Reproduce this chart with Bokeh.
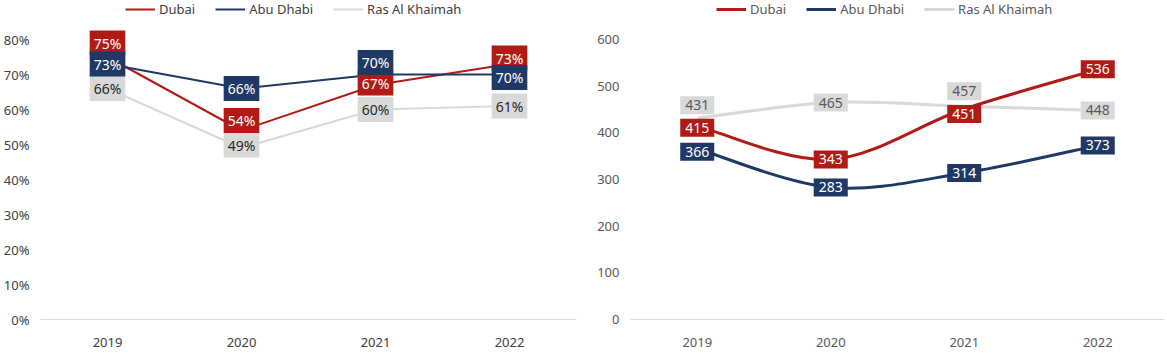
from bokeh.plotting import figure
from bokeh.models import (ColumnDataSource, FixedTicker, PrintfTickFormatter, Range1d,
                          Legend, LegendItem)
from bokeh.layouts import row
from bokeh.embed import file_html
from bokeh.resources import INLINE
from bokeh.core.properties import value

# ---------------- data ----------------
YEARS = ["2019", "2020", "2021", "2022"]
SERIES = ["Dubai", "Abu Dhabi", "Ras Al Khaimah"]

OCC_DUBAI = [75, 54, 67, 73]          # occupancy, %
OCC_ABU_DHABI = [73, 66, 70, 70]
OCC_RAK = [66, 49, 60, 61]

ADR_DUBAI = [415, 343, 451, 536]      # average daily rate
ADR_ABU_DHABI = [366, 283, 314, 373]
ADR_RAK = [431, 465, 457, 448]

OCC_TICKS = [0, 10, 20, 30, 40, 50, 60, 70, 80]
ADR_TICKS = [0, 100, 200, 300, 400, 500, 600]

# ---------------- styles ----------------
COLORS = ["#B01B16", "#1F3864", "#D9D9D9"]
FONT = "Noto Sans"
# label nudges in screen pixels (positive = up) to keep boxes apart, as in the original
OCC_NUDGE = [[14, 10, 2, 6], [0, 0, 12, -3], [0, 3, 0, 0]]
ADR_NUDGE = [[-2, 0, -5, 0], [-3, 0, 0, 0], [13, 0, 15, 0]]

H = 353
BOTTOM = 34


def make_fig(width, left, right, ticks, top_val, fmt, tick_color):
    frame_h = H - BOTTOM
    # top tick sits 39 px below the top of the frame
    px_per_unit = (frame_h - 39) / top_val
    p = figure(width=width, height=H, output_backend="svg", toolbar_location=None,
               min_border_left=left, min_border_right=right, min_border_top=0,
               min_border_bottom=BOTTOM,
               x_range=Range1d(-0.5, len(YEARS) - 0.5),
               y_range=Range1d(0, frame_h / px_per_unit))
    p.outline_line_color = None
    p.background_fill_color = "white"
    p.border_fill_color = "white"
    p.xgrid.visible = False
    p.ygrid.visible = False

    p.yaxis.ticker = FixedTicker(ticks=ticks)
    p.yaxis.formatter = fmt
    p.yaxis.axis_line_color = None
    p.yaxis.major_tick_line_color = None
    p.yaxis.minor_tick_line_color = None
    p.yaxis.major_label_text_font = FONT
    p.yaxis.major_label_text_font_size = "13px"
    p.yaxis.major_label_text_color = tick_color

    p.xaxis.ticker = FixedTicker(ticks=list(range(len(YEARS))))
    p.xaxis.major_label_overrides = {i: y for i, y in enumerate(YEARS)}
    p.xaxis.axis_line_color = "#D9D9D9"
    p.xaxis.major_tick_line_color = None
    p.xaxis.minor_tick_line_color = None
    p.xaxis.major_label_standoff = 12
    p.xaxis.major_label_text_font = FONT
    p.xaxis.major_label_text_font_size = "13px"
    p.xaxis.major_label_text_color = tick_color
    return p, px_per_unit


def add_labels(p, vals, texts, nudge, color, text_color, pad):
    src = ColumnDataSource(dict(x=list(range(len(vals))), y=vals, t=texts,
                                dy=[-n for n in nudge]))
    p.text(x="x", y="y", text="t", source=src, y_offset="dy",
           text_align="center", text_baseline="middle",
           text_font=value(FONT), text_font_size="14px", text_color=text_color,
           background_fill_color=color, padding=pad)


def bezier_source(vals, t=1 / 6):
    n = len(vals)
    xs = list(range(n))
    d = dict(x0=[], y0=[], x1=[], y1=[], cx0=[], cy0=[], cx1=[], cy1=[])
    for i in range(n - 1):
        pm = max(i - 1, 0)
        pp = min(i + 2, n - 1)
        d["x0"].append(xs[i]); d["y0"].append(vals[i])
        d["x1"].append(xs[i + 1]); d["y1"].append(vals[i + 1])
        d["cx0"].append(xs[i] + (xs[i + 1] - xs[pm]) * t)
        d["cy0"].append(vals[i] + (vals[i + 1] - vals[pm]) * t)
        d["cx1"].append(xs[i + 1] - (xs[pp] - xs[i]) * t)
        d["cy1"].append(vals[i + 1] - (vals[pp] - vals[i]) * t)
    return ColumnDataSource(d)


# ---------------- left: occupancy ----------------
p1, k1 = make_fig(583, 40, 7, OCC_TICKS, 80, PrintfTickFormatter(format="%d%%"), "#404040")
occ = [OCC_DUBAI, OCC_ABU_DHABI, OCC_RAK]
draw_order = [2, 0, 1]
rends1 = {}
for si in draw_order:
    r = p1.line(list(range(len(YEARS))), occ[si], line_color=COLORS[si], line_width=2)
    rends1[si] = r
for si in draw_order:
    add_labels(p1, occ[si], [f"{v}%" for v in occ[si]], OCC_NUDGE[si], COLORS[si],
               "#262626" if si == 2 else "white", dict(x=4, y=3))
items1 = [LegendItem(label=SERIES[si], renderers=[rends1[si]]) for si in range(3)]

# ---------------- right: ADR ----------------
p2, k2 = make_fig(584, 47, 3, ADR_TICKS, 600, PrintfTickFormatter(format="%d"), "#595959")
adr = [ADR_DUBAI, ADR_ABU_DHABI, ADR_RAK]
rends2 = {}
for si in draw_order:
    r = p2.bezier(x0="x0", y0="y0", x1="x1", y1="y1", cx0="cx0", cy0="cy0",
                  cx1="cx1", cy1="cy1", source=bezier_source(adr[si]),
                  line_color=COLORS[si], line_width=3)
    rends2[si] = r
for si in draw_order:
    add_labels(p2, adr[si], [str(v) for v in adr[si]], ADR_NUDGE[si], COLORS[si],
               "#595959" if si == 2 else "white", dict(x=5, y=4))
items2 = [LegendItem(label=SERIES[si], renderers=[rends2[si]]) for si in range(3)]


def add_legend(p, items, x, color):
    lg = Legend(items=items, orientation="horizontal", location=(x, H - BOTTOM - 19),
                glyph_width=30, glyph_height=20, label_height=20, label_standoff=4,
                spacing=20, padding=0, margin=0, border_line_color=None,
                background_fill_alpha=0, label_text_font=FONT,
                label_text_font_size="13px", label_text_color=color)
    p.add_layout(lg, "center")


add_legend(p1, items1, 85, "#404040")
add_legend(p2, items2, 86, "#595959")

layout = row(p1, p2, spacing=0)
open("out.html", "w").write(file_html(layout, INLINE))
